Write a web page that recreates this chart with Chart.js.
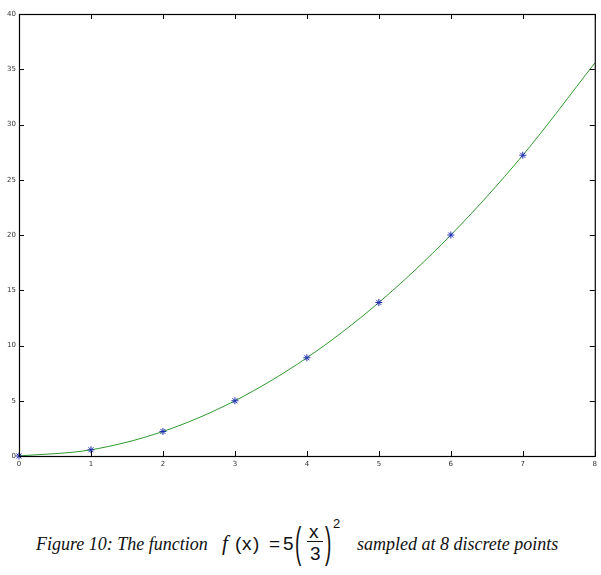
<!DOCTYPE html>
<html lang="en">
<head>
  <meta charset="UTF-8">
  <title>f(x) = 5(x/3)^2 sampled at 8 points</title>
  <script src="https://cdn.jsdelivr.net/npm/chart.js"></script>
  <style>
    html, body { margin: 0; padding: 0; background: #fff; }
    #wrap { position: relative; width: 601px; height: 575px; }
    #chartBox { position: absolute; left: 0; top: 0; width: 601px; height: 490px; }
    .cap { position: absolute; white-space: nowrap; color: #111; line-height: 1; }
    .serif { font-family: "Liberation Serif", "Times New Roman", serif; font-style: italic; font-size: 18px; }
    .sans { font-family: "Liberation Sans", Arial, sans-serif; font-size: 19px; }
    .big { transform: scaleY(2.2); transform-origin: 0 0; font-size: 19px; }
  </style>
</head>
<body>
<div id="wrap">
  <div id="chartBox"><canvas id="myChart" width="601" height="490"></canvas></div>

  <!-- caption -->
  <span class="cap serif" style="left:36px; top:535px;">Figure 10: The function</span>
  <span class="cap serif" style="left:222px; top:533px; font-size:21px;">f</span>
  <span class="cap sans" style="left:235px; top:534px;">(</span>
  <span class="cap sans" style="left:242px; top:534px;">x</span>
  <span class="cap sans" style="left:253px; top:534px;">)</span>
  <span class="cap sans" style="left:269px; top:534px;">=</span>
  <span class="cap sans" style="left:283px; top:534px;">5</span>
  <span class="cap sans big" style="left:295px; top:522px;">(</span>
  <span class="cap sans" style="left:309px; top:522px;">x</span>
  <span style="position:absolute; left:307px; top:541px; width:16px; height:1px; background:#111;"></span>
  <span class="cap sans" style="left:310px; top:544px;">3</span>
  <span class="cap sans big" style="left:325px; top:522px;">)</span>
  <span class="cap sans" style="left:333px; top:517px; font-size:13px;">2</span>
  <span class="cap serif" style="left:357px; top:535px;">sampled at 8 discrete points</span>
</div>

<script>
  // nilai sampel (bintang biru)
  var sampleX = [0, 1, 2, 3, 4, 5, 6, 7];
  var sampleY = [0, 0.56, 2.22, 5.0, 8.89, 13.89, 20.0, 27.22];

  // kurva hijau
  var curveX = [0, 1, 2, 3, 4, 5, 6, 7, 8];
  var curveY = [0, 0.56, 2.22, 5.0, 8.89, 13.89, 20.0, 27.22, 35.56];

  var xTicks = [0, 1, 2, 3, 4, 5, 6, 7, 8];
  var yTicks = [0, 5, 10, 15, 20, 25, 30, 35, 40];

  function toPoints(xs, ys) {
    return xs.map(function (x, i) { return { x: x, y: ys[i] }; });
  }

  // bingkai + tick ke dalam ala matplotlib
  var frameTicks = {
    id: 'frameTicks',
    afterDraw: function (chart) {
      var ctx = chart.ctx, a = chart.chartArea;
      var sx = chart.scales.x, sy = chart.scales.y;
      var len = 5;
      ctx.save();
      ctx.strokeStyle = '#000';
      ctx.lineWidth = 1;
      ctx.beginPath();
      xTicks.forEach(function (v) {
        var px = Math.round(sx.getPixelForValue(v)) + 0.5;
        ctx.moveTo(px, a.bottom); ctx.lineTo(px, a.bottom - len);
        ctx.moveTo(px, a.top); ctx.lineTo(px, a.top + len);
      });
      yTicks.forEach(function (v) {
        var py = Math.round(sy.getPixelForValue(v)) + 0.5;
        ctx.moveTo(a.left, py); ctx.lineTo(a.left + len, py);
        ctx.moveTo(a.right, py); ctx.lineTo(a.right - len, py);
      });
      ctx.stroke();
      ctx.lineWidth = 1.2;
      ctx.strokeRect(a.left + 0.5, a.top + 0.5, a.right - a.left, a.bottom - a.top);
      ctx.restore();
    }
  };

  var tickFont = { family: 'DejaVu Sans', size: 7 };

  var ctx = document.getElementById('myChart').getContext('2d');
  var myChart = new Chart(ctx, {
    type: 'scatter',
    data: {
      datasets: [{
        label: 'f(x)',
        data: toPoints(curveX, curveY),
        showLine: true,
        borderColor: '#2e9a2e',
        borderWidth: 1,
        pointRadius: 0,
        cubicInterpolationMode: 'monotone',
        order: 2
      },
      {
        label: 'samples',
        data: toPoints(sampleX, sampleY),
        showLine: false,
        pointStyle: 'star',
        pointRadius: 3.5,
        borderColor: '#1f2fb0',
        backgroundColor: '#1f2fb0',
        borderWidth: 1,
        order: 1
      }]
    },
    options: {
      responsive: false,
      animation: false,
      clip: false,
      layout: { padding: { top: 14, right: 4, left: 0, bottom: 20 } },
      plugins: {
        legend: { display: false },
        tooltip: { enabled: false }
      },
      scales: {
        x: {
          type: 'linear',
          min: 0, max: 8,
          afterBuildTicks: function (s) { s.ticks = xTicks.map(function (v) { return { value: v }; }); },
          afterFit: function (s) { s.height = 14; },
          grid: { display: false, drawTicks: false },
          border: { display: false },
          ticks: { font: tickFont, color: '#333', padding: 4, maxRotation: 0 }
        },
        y: {
          type: 'linear',
          min: 0, max: 40,
          afterBuildTicks: function (s) { s.ticks = yTicks.map(function (v) { return { value: v }; }); },
          afterFit: function (s) { s.width = 19; },
          grid: { display: false, drawTicks: false },
          border: { display: false },
          ticks: { font: tickFont, color: '#333', padding: 3 }
        }
      }
    },
    plugins: [frameTicks]
  });
</script>
</body>
</html>
